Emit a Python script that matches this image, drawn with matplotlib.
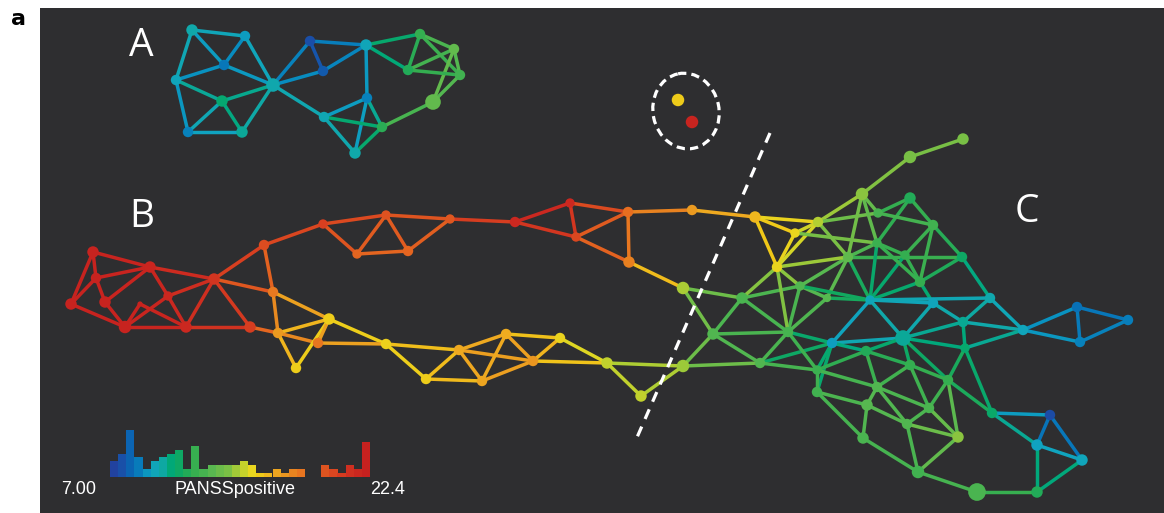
import numpy as np
import matplotlib
matplotlib.use("Agg")
import matplotlib.pyplot as plt
from matplotlib.collections import LineCollection
from matplotlib.colors import LinearSegmentedColormap, Normalize
from matplotlib.patches import Ellipse

# ---------------- colour scale (PANSS positive) ----------------
vmin, vmax = 7.00, 22.4
cmap_stops = [7.0, 7.7, 8.3, 9.0, 9.5, 10.0, 10.6, 11.2, 12.0, 13.0, 14.0,
              14.8, 15.4, 16.0, 16.6, 17.5, 18.5, 19.5, 20.5, 21.5, 22.4]
cmap_hex = ["#233d9c", "#1a4fa8", "#0868b4", "#0890c0", "#10a4c0", "#10a8a8",
            "#00a878", "#10a860", "#34ae50", "#58b850", "#7cc044", "#b8d030",
            "#e8d820", "#f0c818", "#f0b020", "#e89020", "#e87020", "#e05a20",
            "#d84020", "#cc2a20", "#c41e1e"]

# ---------------- histogram of PANSS positive ----------------
hist_counts = [4, 6, 12, 5, 2, 4, 5, 6, 7, 2, 8, 2, 3, 3, 3, 3, 4, 3, 1, 1,
               2, 1, 2, 2, 0, 0, 3, 2, 1, 3, 2, 9]

# ---------------- cluster A ----------------
A_ids = ["a1", "a2", "a3", "a4", "a5", "a6", "a7", "a8", "a9", "a10",
         "a11", "a12", "a13", "a14", "a15", "a16", "a17", "a18", "a19", "a20"]
A_x = [192, 245, 224, 176, 273, 222, 188, 242, 310, 323,
       366, 420, 454, 408, 460, 433, 367, 324, 382, 355]
A_y = [30, 36, 65, 80, 85, 101, 132, 132, 41, 71,
       45, 34, 49, 70, 75, 102, 98, 117, 127, 153]
A_val = [10.0, 9.3, 8.6, 9.6, 9.9, 10.8, 8.8, 10.2, 7.7, 8.0,
         9.7, 12.0, 13.3, 11.6, 12.4, 13.3, 8.8, 9.8, 11.8, 10.0]
A_size = [11, 10, 10, 10, 13, 11, 10, 11, 10, 10,
          11, 10, 10, 10, 10, 15, 10, 10, 10, 11]
A_edges = ("a1-a2 a1-a3 a1-a4 a2-a3 a2-a5 a3-a4 a3-a5 a4-a6 a4-a7 a6-a5 "
           "a6-a7 a6-a8 a7-a8 a5-a8 a5-a9 a5-a10 a5-a18 a9-a10 a9-a11 a10-a11 "
           "a11-a12 a11-a14 a11-a17 a12-a14 a12-a13 a12-a15 a13-a14 a13-a15 "
           "a13-a16 a14-a15 a15-a16 a16-a19 a17-a18 a17-a19 a17-a20 a18-a19 "
           "a18-a20 a19-a20").split()

# ---------------- cluster B (and the two chains) ----------------
B_ids = ["b1", "b2", "b3", "b4", "b5", "b6", "b7", "b8", "b9", "b10",
         "b11", "b12", "b13", "b14", "b15", "b16", "b17", "b18", "b19", "b20",
         "b21", "b22", "b23", "t1", "t2", "t3", "t4", "t5", "t6", "t7",
         "l1", "l2", "l3", "l4", "l5", "l6"]
B_x = [93, 96, 71, 105, 150, 140, 125, 168, 186, 214,
       264, 250, 273, 278, 329, 296, 318, 386, 426, 323,
       386, 357, 408, 450, 515, 570, 576, 628, 629, 692,
       459, 482, 506, 533, 560, 607]
B_y = [252, 278, 304, 302, 267, 304, 327, 296, 327, 279,
       245, 327, 292, 333, 319, 368, 343, 344, 379, 224,
       215, 254, 251, 219, 222, 203, 237, 212, 262, 210,
       350, 381, 334, 361, 338, 363]
B_val = [22.0, 22.0, 22.0, 22.0, 21.8, 22.0, 22.0, 21.7, 21.6, 21.0,
         20.0, 20.6, 18.2, 17.2, 15.8, 15.8, 18.3, 15.7, 15.8, 20.5,
         19.8, 19.0, 19.0, 19.6, 21.6, 21.6, 20.2, 18.6, 18.0, 17.2,
         16.8, 16.9, 16.7, 17.3, 15.6, 14.9]
B_size = [11, 10, 11, 11, 11, 5, 12, 9, 11, 11,
          10, 11, 10, 10, 11, 10, 10, 10, 10, 9,
          9, 9, 10, 9, 10, 9, 9, 10, 11, 10,
          10, 10, 10, 10, 10, 11]

# ---------------- cluster C ----------------
C_ids = ["c%d" % k for k in range(1, 54)]
C_x = [683, 742, 713, 683, 641, 760, 788, 800, 827, 777,
       795, 818, 755, 862, 910, 963, 910, 878, 933, 848,
       877, 905, 962, 920, 870, 933, 990, 963, 903, 832,
       1023, 1077, 1128, 1080, 866, 965, 910, 817, 817, 948,
       877, 867, 929, 907, 958, 992, 1050, 1037, 1082, 863,
       918, 977, 1037]
C_y = [288, 298, 334, 366, 396, 363, 332, 286, 298, 267,
       233, 222, 217, 194, 157, 139, 198, 213, 225, 257,
       243, 255, 257, 282, 300, 303, 298, 322, 338, 343,
       330, 307, 320, 342, 351, 348, 365, 370, 392, 380,
       387, 405, 408, 424, 437, 413, 415, 445, 460, 438,
       472, 492, 492]
C_val = [14.6, 12.6, 12.8, 14.4, 14.9, 12.8, 12.5, 12.8, 13.0, 15.6,
         15.5, 14.7, 16.4, 14.2, 13.9, 13.9, 11.6, 12.5, 12.4, 13.2,
         12.2, 12.0, 11.1, 12.0, 9.7, 9.6, 9.9, 10.3, 10.2, 9.4,
         9.6, 8.5, 8.7, 8.8, 11.6, 10.9, 12.0, 12.2, 12.4, 12.0,
         12.8, 13.0, 12.6, 12.8, 14.2, 11.0, 7.6, 9.5, 9.6, 12.6,
         12.4, 12.6, 11.6]
C_size = [12, 11, 11, 12, 11, 10, 10, 9, 8, 10,
          9, 10, 11, 12, 12, 11, 11, 9, 10, 10,
          9, 9, 10, 10, 9, 10, 10, 10, 15, 10,
          10, 10, 10, 10, 10, 9, 10, 9, 10, 10,
          10, 11, 10, 10, 11, 10, 10, 11, 11, 11,
          12, 17, 11]

BC_edges = ("b1-b2 b1-b3 b1-b5 b2-b3 b2-b4 b2-b5 b4-b5 b4-b7 b3-b7 b7-b6 "
            "b6-b9 b7-b8 b7-b9 b5-b8 b5-b10 b8-b9 b8-b10 b9-b10 b9-b12 b10-b11 "
            "b10-b12 b10-b13 b11-b13 b11-b20 b12-b14 b13-b14 b13-b15 b14-b15 "
            "b14-b16 b14-b17 b15-b16 b15-b17 b15-b18 b17-b18 b18-b19 b18-l1 "
            "b19-l1 b19-l2 l1-l2 l1-l3 l1-l4 l2-l3 l2-l4 l3-l4 l3-l5 l4-l5 "
            "l4-l6 l5-l6 l6-c5 l6-c4 c5-c4 "
            "b20-b21 b20-b22 b21-b22 b21-b23 b22-b23 b21-t1 b23-t1 t1-t2 t2-t3 "
            "t2-t4 t3-t4 t3-t5 t4-t5 t4-t6 t5-t6 t5-t7 t7-c13 t6-c1 "
            "c1-c2 c1-c3 c2-c3 c2-c8 c2-c10 c2-c7 c3-c4 c3-c6 c3-c7 c4-c6 "
            "c6-c7 c6-c30 c6-c38 c7-c8 c7-c10 c7-c30 c7-c38 c8-c9 c8-c10 "
            "c8-c20 c10-c11 c10-c12 c10-c13 c11-c12 c11-c13 c12-c13 c12-c14 "
            "c12-c18 c12-c20 c11-c21 c14-c15 c15-c16 c14-c18 c14-c20 c14-c21 "
            "c17-c18 c17-c19 c17-c21 c18-c19 c19-c22 c19-c23 c19-c24 c20-c21 "
            "c20-c23 c20-c9 c20-c25 c21-c22 c21-c25 c22-c24 c22-c25 c23-c24 "
            "c23-c27 c24-c25 c24-c26 c25-c26 c25-c27 c25-c29 c25-c30 c26-c28 "
            "c26-c29 c27-c28 c27-c31 c28-c29 c28-c31 c28-c36 c29-c30 c29-c35 "
            "c29-c36 c29-c37 c29-c40 c30-c35 c30-c38 c30-c39 c31-c32 c31-c34 "
            "c31-c36 c32-c33 c32-c34 c33-c34 c35-c37 c35-c41 c35-c38 c36-c40 "
            "c36-c46 c37-c40 c37-c41 c37-c43 c38-c39 c38-c41 c39-c42 c39-c50 "
            "c40-c43 c40-c45 c40-c46 c41-c42 c41-c43 c41-c44 c42-c44 c42-c50 "
            "c43-c44 c43-c45 c44-c45 c44-c51 c45-c51 c46-c47 c46-c48 c47-c48 "
            "c47-c49 c48-c49 c48-c53 c49-c53 c50-c51 c51-c52 c52-c53 c9-c25 "
            "c10-c20 c7-c9 c21-c24 c8-c25").split()

# ---------------- two isolated nodes ----------------
E_x = [678, 692]
E_y = [100, 122]
E_val = [15.9, 21.9]
E_size = [12, 12]

# ---------------- figure ----------------
W, H = 1164, 513
fig = plt.figure(figsize=(W / 100, H / 100), dpi=100)
fig.patch.set_facecolor("white")

cmap = LinearSegmentedColormap.from_list(
    "panss", [((s - vmin) / (vmax - vmin), c) for s, c in zip(cmap_stops, cmap_hex)])
norm = Normalize(vmin, vmax)

px0, py0 = 40, 8
ax = fig.add_axes([px0 / W, 0, (W - px0) / W, (H - py0) / H])
ax.set_facecolor("#2e2e30")
ax.set_xlim(px0, W)
ax.set_ylim(H, py0)
ax.set_xticks([])
ax.set_yticks([])
for sp in ax.spines.values():
    sp.set_visible(False)


def draw_graph(ids, xs, ys, vals, sizes, edges):
    idx = {n: i for i, n in enumerate(ids)}
    segs, cols = [], []
    for e in edges:
        p, q = e.split("-")
        i, j = idx[p], idx[q]
        segs.append([(xs[i], ys[i]), (xs[j], ys[j])])
        cols.append(cmap(norm((vals[i] + vals[j]) / 2)))
    ax.add_collection(LineCollection(segs, colors=cols, linewidths=2.5,
                                     zorder=2, capstyle="round"))
    ax.scatter(xs, ys, s=(np.array(sizes) * 0.75) ** 2, c=vals, cmap=cmap,
               norm=norm, linewidths=0, zorder=3)


draw_graph(A_ids, A_x, A_y, A_val, A_size, A_edges)
draw_graph(B_ids + C_ids, B_x + C_x, B_y + C_y, B_val + C_val,
           B_size + C_size, BC_edges)
ax.scatter(E_x, E_y, s=(np.array(E_size) * 0.75) ** 2, c=E_val, cmap=cmap,
           norm=norm, linewidths=0, zorder=3)

# dashed ellipse and dashed separator
ax.add_patch(Ellipse((686, 111), 66, 76, angle=-12, fill=False,
                     edgecolor="white", linewidth=2.3,
                     linestyle=(0, (2.6, 1.6)), zorder=4))
ax.plot([770, 635], [133, 442], color="white", linewidth=2.3,
        linestyle=(0, (3.3, 2.6)), zorder=4)

# cluster labels
for lab, lx, ly in [("A", 141, 46), ("B", 142, 217), ("C", 1027, 212)]:
    ax.text(lx, ly, lab, color="white", fontsize=28, family="Open Sans",
            ha="center", va="center", zorder=5)

# histogram legend
hx0, hx1, hbase, htop = 110, 370, 477, 430
hax = fig.add_axes([hx0 / W, (H - hbase) / H, (hx1 - hx0) / W, (hbase - htop) / H])
hax.patch.set_alpha(0)
edges_h = np.linspace(vmin, vmax, len(hist_counts) + 1)
centers = (edges_h[:-1] + edges_h[1:]) / 2
hax.bar(centers, hist_counts, width=edges_h[1] - edges_h[0],
        color=cmap(norm(centers)), linewidth=0)
hax.set_xlim(vmin, vmax)
hax.set_ylim(0, 12)
hax.axis("off")

for t, tx in [("7.00", 79), ("PANSSpositive", 235), ("22.4", 388)]:
    ax.text(tx, 490, t, color="white", fontsize=13, family="Liberation Sans",
            ha="center", va="center", zorder=5)

fig.text(18 / W, 1 - 19 / H, "a", color="black", fontsize=16,
         fontweight="bold", family="DejaVu Sans", ha="center", va="center")

fig.savefig("out.png", dpi=100, facecolor=fig.get_facecolor())
